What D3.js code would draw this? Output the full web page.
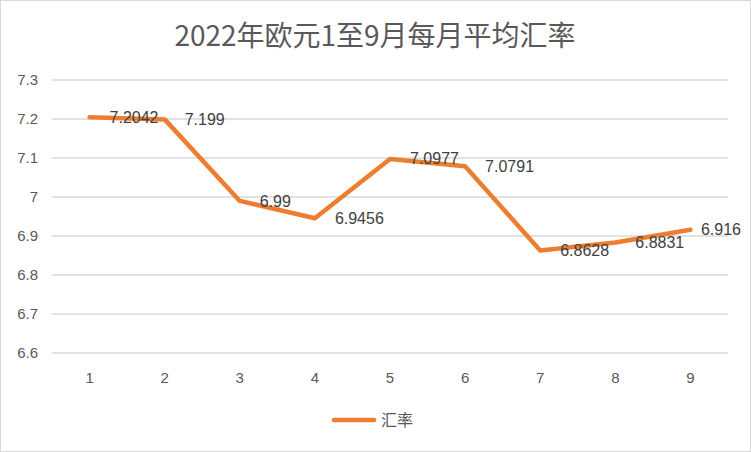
<!DOCTYPE html>
<html><head><meta charset="utf-8">
<script src="https://cdn.jsdelivr.net/npm/d3@7"></script>
<style>body{margin:0;background:#fff;} svg{display:block;font-family:"Liberation Sans","Noto Sans CJK SC",sans-serif;}</style>
</head><body>
<svg id="c" width="751" height="452"></svg>
<script>
const months = ["1","2","3","4","5","6","7","8","9"];
const rates = [7.2042, 7.199, 6.99, 6.9456, 7.0977, 7.0791, 6.8628, 6.8831, 6.916];
const labels = ["7.2042","7.199","6.99","6.9456","7.0977","7.0791","6.8628","6.8831","6.916"];
const yTicks = [6.6,6.7,6.8,6.9,7,7.1,7.2,7.3];
const titleText = "2022年欧元1至9月每月平均汇率";
const seriesName = "汇率";

const svg = d3.select("#c");
svg.append("rect").attr("x",0.5).attr("y",0.5).attr("width",750).attr("height",451).attr("fill","#fff").attr("stroke","#d9d9d9");

const x = d3.scaleBand().domain(months).range([52,728]);
const y = d3.scaleLinear().domain([6.6,7.3]).range([353,80]);

svg.append("text").attr("x",375).attr("y",46).attr("text-anchor","middle")
  .attr("font-size",28).attr("fill","#595959").attr("font-family","'Noto Sans CJK SC',sans-serif").text(titleText);

const gy = svg.append("g");
gy.selectAll("line").data(yTicks).join("line")
  .attr("x1",52).attr("x2",728).attr("y1",d=>y(d)).attr("y2",d=>y(d))
  .attr("stroke","#d9d9d9").attr("stroke-width",1.3);
gy.selectAll("text").data(yTicks).join("text")
  .attr("x",38).attr("y",d=>y(d)).attr("dy","0.35em").attr("text-anchor","end")
  .attr("font-size",15).attr("fill","#595959").text(d=>d3.format("")(d));

svg.append("g").selectAll("text").data(months).join("text")
  .attr("x",d=>x(d)+x.bandwidth()/2).attr("y",383).attr("text-anchor","middle")
  .attr("font-size",15).attr("fill","#595959").text(d=>d);

const line = d3.line().x((d,i)=>x(months[i])+x.bandwidth()/2).y(d=>y(d));
svg.append("path").datum(rates).attr("d",line).attr("fill","none")
  .attr("stroke","#ED7D31").attr("stroke-width",4.5).attr("stroke-linejoin","round").attr("stroke-linecap","round");

svg.append("g").selectAll("text").data(rates).join("text")
  .attr("x",(d,i)=>x(months[i])+x.bandwidth()/2+20).attr("y",d=>y(d)).attr("dy","0.35em")
  .attr("font-size",16).attr("fill","#404040").text((d,i)=>labels[i])
  .each(function(){
    const w = this.getComputedTextLength();
    const x0 = +this.getAttribute("x");
    if (x0 + w > 741) this.setAttribute("x", 741 - w);
  });

svg.append("line").attr("x1",334).attr("x2",374).attr("y1",420).attr("y2",420)
  .attr("stroke","#ED7D31").attr("stroke-width",4.5).attr("stroke-linecap","round");
svg.append("text").attr("x",381).attr("y",420).attr("dy","0.35em").attr("font-size",16)
  .attr("fill","#595959").attr("font-family","'Noto Sans CJK SC',sans-serif").text(seriesName);
</script>
</body></html>
